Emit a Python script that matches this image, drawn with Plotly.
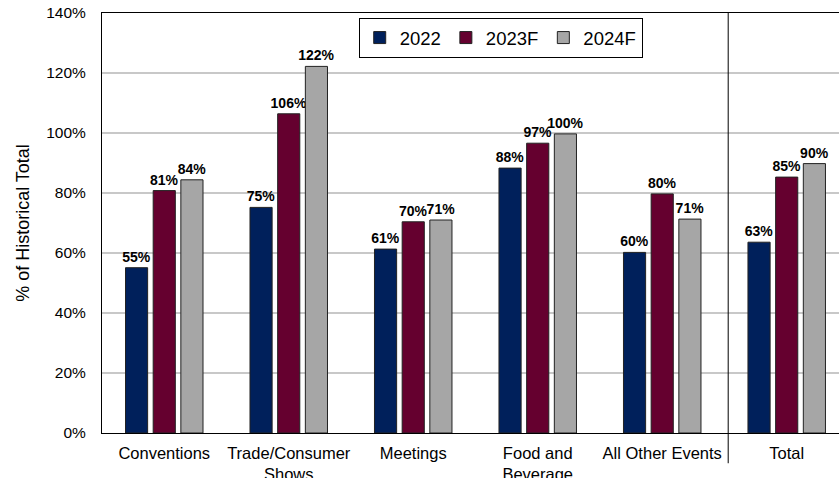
import plotly.graph_objects as go

categories = ["Conventions", "Trade/Consumer<br>Shows", "Meetings", "Food and<br>Beverage", "All Other Events", "Total"]
series_names = ["2022", "2023F", "2024F"]
values_2022 = [55.1, 75.2, 61.3, 88.3, 60.2, 63.6]
values_2023 = [80.8, 106.4, 70.4, 96.6, 79.7, 85.3]
values_2024 = [84.4, 122.2, 71.0, 99.7, 71.3, 89.8]
labels_2022 = ["55%", "75%", "61%", "88%", "60%", "63%"]
labels_2023 = ["81%", "106%", "70%", "97%", "80%", "85%"]
labels_2024 = ["84%", "122%", "71%", "100%", "71%", "90%"]
colors = ["#00205B", "#65002F", "#A6A6A6"]
y_ticks = [0, 20, 40, 60, 80, 100, 120, 140]
y_tick_labels = [f"{v}%" for v in y_ticks]

FONT = "Liberation Sans, Arial, sans-serif"

fig = go.Figure()
for name, vals, labs, col in zip(series_names,
                                 [values_2022, values_2023, values_2024],
                                 [labels_2022, labels_2023, labels_2024],
                                 colors):
    fig.add_trace(go.Bar(
        name=name, x=list(range(len(categories))), y=vals,
        text=labs, textposition="outside", cliponaxis=False,
        constraintext="none",
        textfont=dict(family=FONT, size=14, color="#000000", weight="bold"),
        marker=dict(color=col, line=dict(color="#222222", width=1)),
    ))

fig.add_shape(type="line", xref="x", yref="paper", x0=4.53, x1=4.53, y0=-0.072, y1=1,
              line=dict(color="#000000", width=1))

fig.update_layout(
    width=839, height=478,
    margin=dict(l=102, r=0, t=13, b=45),
    paper_bgcolor="white", plot_bgcolor="white",
    barmode="group", bargap=0.333, bargroupgap=0.2,
    font=dict(family=FONT, color="#000000"),
    showlegend=True,
    legend=dict(orientation="h", x=0.541, xanchor="center", y=0.988, yanchor="top",
                bordercolor="#000000", borderwidth=1, bgcolor="white",
                font=dict(size=18.5, family=FONT), itemwidth=30,
                traceorder="normal"),
    xaxis=dict(
        tickmode="array", tickvals=list(range(len(categories))), ticktext=categories,
        range=[-0.5, 5.42], showline=True, linecolor="#000000", linewidth=1,
        mirror=True, showgrid=False, ticks="", ticklabelstandoff=5,
        tickfont=dict(size=16.5, family=FONT), automargin=False,
        fixedrange=True,
    ),
    yaxis=dict(
        range=[0, 140], tickmode="array", tickvals=y_ticks, ticktext=y_tick_labels,
        showgrid=True, gridcolor="#C8C8C8", gridwidth=1.5,
        showline=True, linecolor="#000000", linewidth=1,
        ticks="", ticklabelstandoff=12, tickfont=dict(size=15.5, family=FONT),
        title=dict(text="% of Historical Total", font=dict(size=18, family=FONT), standoff=11),
        zeroline=False, automargin=False,
    ),
)

fig.write_html("out.html")
